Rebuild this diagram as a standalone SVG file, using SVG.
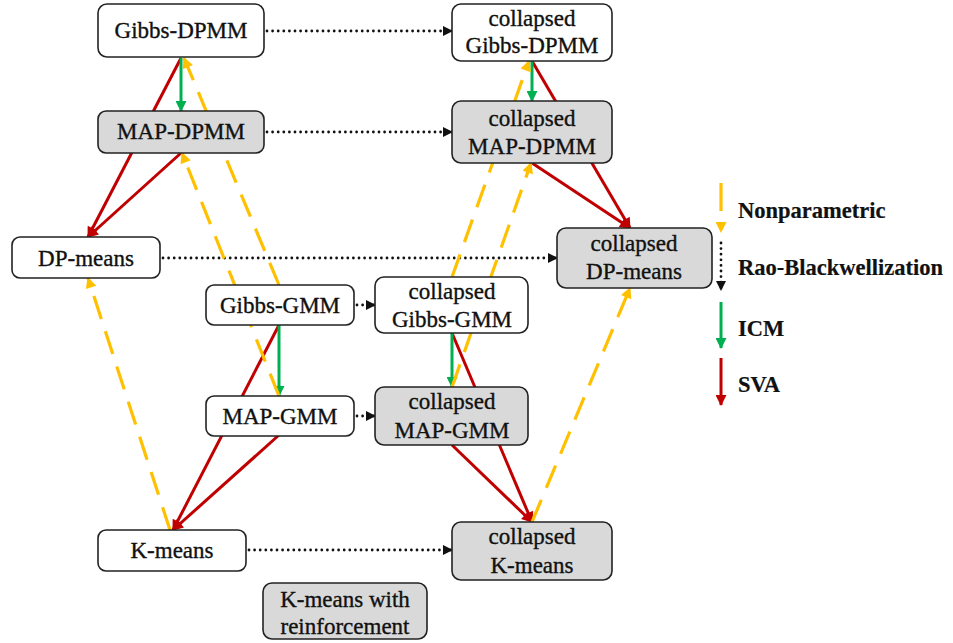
<svg xmlns="http://www.w3.org/2000/svg" width="953" height="643" viewBox="0 0 953 643">
<style>
.box{stroke:#222;stroke-width:1.6;fill:#fff}
.gray{fill:#d9d9d9}
text{font-size:23px;fill:#111;stroke:#111;stroke-width:0.35;text-anchor:middle}
.leg{font-weight:bold;font-size:22.5px;stroke-width:0.2;text-anchor:start}
.red{stroke:#c00000;stroke-width:3;fill:none;marker-end:url(#mr)}
.grn{stroke:#00b050;stroke-width:3;fill:none;marker-end:url(#mg)}
.org{stroke:#ffc000;stroke-width:3.2;fill:none;stroke-dasharray:24 13;marker-end:url(#mo)}
.dot{stroke:#111;stroke-width:2.8;fill:none;stroke-linecap:round;stroke-dasharray:0 5.6;marker-end:url(#mk)}
</style>
<defs>
<marker id="mr" viewBox="0 0 10 10" refX="9" refY="5" markerUnits="userSpaceOnUse" markerWidth="13" markerHeight="11" orient="auto"><path d="M0,0L10,5L0,10z" fill="#c00000"/></marker>
<marker id="mg" viewBox="0 0 10 10" refX="9" refY="5" markerUnits="userSpaceOnUse" markerWidth="13" markerHeight="11" orient="auto"><path d="M0,0L10,5L0,10z" fill="#00b050"/></marker>
<marker id="mo" viewBox="0 0 10 10" refX="9" refY="5" markerUnits="userSpaceOnUse" markerWidth="13" markerHeight="11" orient="auto"><path d="M0,0L10,5L0,10z" fill="#ffc000"/></marker>
<marker id="mk" viewBox="0 0 10 10" refX="9" refY="5" markerUnits="userSpaceOnUse" markerWidth="11" markerHeight="10" orient="auto"><path d="M0,0L10,5L0,10z" fill="#111"/></marker>
</defs>
<rect width="953" height="643" fill="#fff"/>
<g id="connectors">
<line class="dot" x1="267" y1="31" x2="452" y2="31"/>
<line class="dot" x1="267" y1="132" x2="452" y2="132"/>
<line class="dot" x1="163" y1="258" x2="557" y2="258"/>
<line class="dot" x1="357" y1="305" x2="375" y2="305"/>
<line class="dot" x1="357" y1="416" x2="375" y2="416"/>
<line class="dot" x1="249" y1="550" x2="452" y2="550"/>
<line class="red" x1="181" y1="58" x2="88" y2="237"/>
<line class="red" x1="181" y1="153" x2="88" y2="237"/>
<line class="red" x1="532" y1="61" x2="630" y2="228"/>
<line class="red" x1="532" y1="163" x2="630" y2="228"/>
<line class="red" x1="279" y1="325" x2="173" y2="530"/>
<line class="red" x1="279" y1="435" x2="173" y2="530"/>
<line class="red" x1="452" y1="333" x2="532" y2="522"/>
<line class="red" x1="452" y1="445" x2="532" y2="522"/>
<line class="grn" x1="181" y1="58" x2="181" y2="111"/>
<line class="grn" x1="532" y1="61" x2="532" y2="101"/>
<line class="grn" x1="279" y1="325" x2="279" y2="396"/>
<line class="grn" x1="452" y1="333" x2="452" y2="387"/>
<line class="org" x1="279" y1="285" x2="184" y2="58"/>
<line class="org" x1="279" y1="396" x2="182" y2="153"/>
<line class="org" x1="170" y1="530" x2="88" y2="278"/>
<line class="org" x1="452" y1="277" x2="529" y2="61"/>
<line class="org" x1="452" y1="387" x2="531" y2="163"/>
<line class="org" x1="532" y1="522" x2="630" y2="288"/>
</g>
<g font-family="'Liberation Serif', 'DejaVu Serif', 'Times New Roman', serif">
<g id="gibbs-dpmm"><rect class="box" x="98" y="4" width="166" height="53" rx="9"/><text x="181" y="38">Gibbs-DPMM</text></g>
<g id="map-dpmm"><rect class="box gray" x="98" y="111" width="166" height="42" rx="8"/><text x="181" y="139">MAP-DPMM</text></g>
<g id="c-gibbs-dpmm"><rect class="box" x="452" y="4" width="160" height="57" rx="9"/><text x="532" y="26">collapsed</text><text x="532" y="53">Gibbs-DPMM</text></g>
<g id="c-map-dpmm"><rect class="box gray" x="452" y="101" width="160" height="62" rx="9"/><text x="532" y="126">collapsed</text><text x="532" y="154">MAP-DPMM</text></g>
<g id="dp-means"><rect class="box" x="12" y="237" width="148" height="41" rx="8"/><text x="86" y="266">DP-means</text></g>
<g id="c-dp-means"><rect class="box gray" x="557" y="228" width="155" height="60" rx="9"/><text x="634" y="251">collapsed</text><text x="634" y="279">DP-means</text></g>
<g id="gibbs-gmm"><rect class="box" x="206" y="285" width="148" height="40" rx="8"/><text x="280" y="313">Gibbs-GMM</text></g>
<g id="c-gibbs-gmm"><rect class="box" x="375" y="277" width="153" height="56" rx="9"/><text x="452" y="299">collapsed</text><text x="452" y="327">Gibbs-GMM</text></g>
<g id="map-gmm"><rect class="box" x="206" y="396" width="148" height="40" rx="8"/><text x="280" y="424">MAP-GMM</text></g>
<g id="c-map-gmm"><rect class="box gray" x="375" y="387" width="153" height="58" rx="9"/><text x="452" y="409">collapsed</text><text x="452" y="438">MAP-GMM</text></g>
<g id="k-means"><rect class="box" x="98" y="530" width="148" height="41" rx="8"/><text x="172" y="558">K-means</text></g>
<g id="c-k-means"><rect class="box gray" x="452" y="522" width="160" height="58" rx="9"/><text x="532" y="544">collapsed</text><text x="532" y="573">K-means</text></g>
<g id="k-means-reinf"><rect class="box gray" x="263" y="583" width="164" height="56" rx="9"/><text x="345" y="607">K-means with</text><text x="345" y="634">reinforcement</text></g>
<g id="legend">
<line class="org" x1="721" y1="183" x2="721" y2="232" style="stroke-dasharray:28 100"/>
<text class="leg" x="738" y="218">Nonparametric</text>
<line class="dot" x1="721" y1="243" x2="721" y2="290"/>
<text class="leg" x="738" y="275">Rao-Blackwellization</text>
<line class="grn" x1="721" y1="302" x2="721" y2="348"/>
<text class="leg" x="738" y="336">ICM</text>
<line class="red" x1="721" y1="358" x2="721" y2="405"/>
<text class="leg" x="738" y="392">SVA</text>
</g>
</g>
</svg>
